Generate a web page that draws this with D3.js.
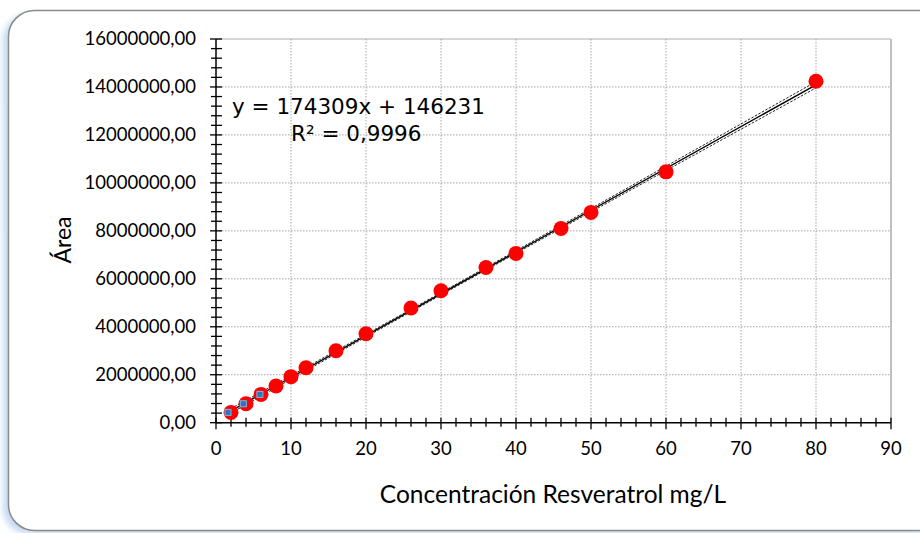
<!DOCTYPE html>
<html><head><meta charset="utf-8">
<script src="https://cdn.jsdelivr.net/npm/d3@7"></script>
<style>html,body{margin:0;padding:0;background:#fff;} svg{display:block}</style>
</head><body>
<svg id="chart" width="920" height="533"></svg>
<script>
// Calibration data: resveratrol concentration (mg/L) vs peak area
const concentration = [2, 4, 6, 8, 10, 12, 16, 20, 26, 30, 36, 40, 46, 50, 60, 80];
const area = [430000, 790000, 1180000, 1530000, 1920000, 2290000, 3000000, 3710000,
              4780000, 5500000, 6470000, 7060000, 8100000, 8770000, 10460000, 14240000];

// Low-level check standards (small squares)
const checkConc = [1.6, 3.65, 5.85];
const checkArea = [430000, 790000, 1180000];

// Linear fit and its confidence band
const slope = 174309;
const intercept = 146231;
const rSquared = "0,9996";
const fitRange = [2, 80];
const bandX = [2, 10, 20, 30, 40, 50, 60, 80];
const bandUpper = [590000, 1964000, 3687000, 5425000, 7174000, 8932000, 10695000, 14221000];
const bandLower = [400000, 1814000, 3577000, 5325000, 7063000, 8791000, 10515000, 13961000];

const xTicks = [0, 10, 20, 30, 40, 50, 60, 70, 80, 90];
const yTicks = [0, 2000000, 4000000, 6000000, 8000000, 10000000, 12000000, 14000000, 16000000];

const svg = d3.select("#chart");
const plot = {left: 216, right: 891, top: 39, bottom: 422.7};

const x = d3.scaleLinear().domain([0, 90]).range([plot.left, plot.right]);
const y = d3.scaleLinear().domain([0, 16000000]).range([plot.bottom, plot.top]);

// Frame with soft blue shadow
const defs = svg.append("defs");
const blur = defs.append("filter").attr("id", "shadow").attr("x", "-10%").attr("y", "-10%").attr("width", "120%").attr("height", "120%");
blur.append("feGaussianBlur").attr("stdDeviation", 3);
svg.append("rect").attr("x", 3).attr("y", 14).attr("width", 940).attr("height", 520)
  .attr("rx", 26).attr("fill", "#c5d9f1").attr("filter", "url(#shadow)");
svg.append("rect").attr("x", 8.5).attr("y", 10.5).attr("width", 940).attr("height", 520)
  .attr("rx", 26).attr("fill", "#fff").attr("stroke", "#8a8a8a").attr("stroke-width", 1.5);

// Plot area border (top and right)
svg.append("line").attr("x1", plot.left).attr("x2", plot.right).attr("y1", plot.top).attr("y2", plot.top)
  .attr("stroke", "#c8c8c8").attr("stroke-width", 1.5);
svg.append("line").attr("x1", plot.right).attr("x2", plot.right).attr("y1", plot.top).attr("y2", plot.bottom)
  .attr("stroke", "#c0c0c0").attr("stroke-width", 2);

// Dotted gridlines
const grid = svg.append("g").attr("stroke", "#a6a6a6").attr("stroke-width", 1).attr("stroke-dasharray", "1.5,1.5");
grid.selectAll("line.v").data(xTicks.filter(d => d > 0 && d < 90)).join("line")
  .attr("x1", d => x(d)).attr("x2", d => x(d)).attr("y1", plot.top).attr("y2", plot.bottom);
grid.selectAll("line.h").data(yTicks.filter(d => d > 0 && d < 16000000)).join("line")
  .attr("class", "h")
  .attr("x1", plot.left).attr("x2", plot.right).attr("y1", d => y(d)).attr("y2", d => y(d));

// Axes
const labelFont = "Lato, 'Open Sans', sans-serif";
const yAxis = svg.append("g");
yAxis.append("line").attr("x1", plot.left).attr("x2", plot.left).attr("y1", plot.top).attr("y2", plot.bottom)
  .attr("stroke", "#000").attr("stroke-width", 1.5);
const yMinor = d3.range(0, 16000001, 400000);
yAxis.selectAll("line.tk").data(yMinor).join("line").attr("class", "tk")
  .attr("x1", d => plot.left - (d % 2000000 === 0 ? 6 : 5)).attr("x2", plot.left + 6)
  .attr("y1", d => y(d)).attr("y2", d => y(d)).attr("stroke", "#000").attr("stroke-width", 1.3);
yAxis.selectAll("text").data(yTicks).join("text")
  .attr("x", 196).attr("y", d => y(d)).attr("dy", "0.35em").attr("text-anchor", "end")
  .attr("font-family", labelFont).attr("font-size", 18.5).attr("fill", "#000")
  .text(d => d.toFixed(2).replace(".", ","));

const xAxis = svg.append("g");
xAxis.append("line").attr("x1", plot.left).attr("x2", plot.right).attr("y1", plot.bottom).attr("y2", plot.bottom)
  .attr("stroke", "#000").attr("stroke-width", 1.5);
const xMinor = d3.range(0, 91, 2);
xAxis.selectAll("line.tk").data(xMinor).join("line").attr("class", "tk")
  .attr("x1", d => x(d)).attr("x2", d => x(d))
  .attr("y1", plot.bottom - 5).attr("y2", d => plot.bottom + (d % 10 === 0 ? 6.5 : 4))
  .attr("stroke", "#000").attr("stroke-width", 1.3);
xAxis.selectAll("text").data(xTicks).join("text")
  .attr("x", d => x(d)).attr("y", 455).attr("text-anchor", "middle")
  .attr("font-family", labelFont).attr("font-size", 18.5).attr("fill", "#000")
  .text(d => d);

// Axis titles
svg.append("text").attr("x", 553).attr("y", 503).attr("text-anchor", "middle")
  .attr("font-family", labelFont).attr("font-size", 24.5).attr("fill", "#000")
  .text("Concentración Resveratrol mg/L");
svg.append("text").attr("transform", "translate(71,240) rotate(-90)").attr("text-anchor", "middle")
  .attr("font-family", labelFont).attr("font-size", 23).attr("fill", "#000")
  .text("Área");

// Confidence band (dashed) and fitted line
const bandLine = d3.line().x(d => x(d[0])).y(d => y(d[1]));
[bandUpper, bandLower].forEach(arr => {
  svg.append("path").datum(bandX.map((v, i) => [v, arr[i]])).attr("d", bandLine)
    .attr("fill", "none").attr("stroke", "#222").attr("stroke-width", 1).attr("stroke-dasharray", "2.5,1.5");
});
svg.append("path").datum(fitRange.map(v => [v, slope * v + intercept])).attr("d", bandLine)
  .attr("fill", "none").attr("stroke", "#000").attr("stroke-width", 1.4);

// Data points
svg.append("g").selectAll("circle").data(concentration).join("circle")
  .attr("cx", d => x(d)).attr("cy", (d, i) => y(area[i])).attr("r", 7.5).attr("fill", "#ff0000");
svg.append("g").selectAll("rect").data(checkConc).join("rect")
  .attr("x", d => x(d) - 3).attr("y", (d, i) => y(checkArea[i]) - 3).attr("width", 6).attr("height", 6)
  .attr("fill", "#2e75b6").attr("stroke", "#7fb2e5").attr("stroke-width", 1);

// Trendline equation
const eqFont = "'DejaVu Sans', Verdana, sans-serif";
svg.append("text").attr("x", 232).attr("y", 114).attr("font-family", eqFont).attr("font-size", 21.5)
  .attr("fill", "#000")
  .text(`y = ${slope}x + ${intercept}`);
svg.append("text").attr("x", 291).attr("y", 141).attr("font-family", eqFont).attr("font-size", 21.5)
  .attr("fill", "#000")
  .text(`R² = ${rSquared}`);
</script>
</body></html>
